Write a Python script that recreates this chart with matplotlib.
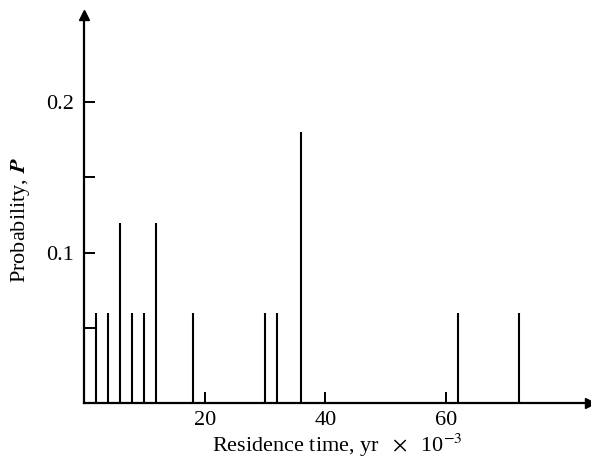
"""Residence time probability distribution: stem chart with arrowed axes."""
import matplotlib
matplotlib.use("Agg")
import matplotlib.pyplot as plt

# residence times (yr x 10^-3) and their probabilities
residence_time = [2, 4, 6, 8, 10, 12, 18, 30, 32, 36, 62, 72]
probability = [0.06, 0.06, 0.12, 0.06, 0.06, 0.12, 0.06, 0.06, 0.06, 0.18, 0.06, 0.06]

x_ticks = [20, 40, 60]
y_major = [0.1, 0.2]
y_minor = [0.05, 0.15]
y_ticklabels = ["0.1", "0.2"]

plt.rcParams.update({
    "font.family": "Liberation Serif",
    "mathtext.fontset": "stix",
    "font.size": 16,
})

fig = plt.figure(figsize=(5.91, 4.65), dpi=100)
ax = fig.add_axes([0.142, 0.133, 0.856, 0.835])

ax.vlines(residence_time, 0, probability, colors="black", lw=1.5)

ax.set_xlim(0, 83.8)
ax.set_ylim(0, 0.258)

for side in ("top", "right"):
    ax.spines[side].set_visible(False)
for side in ("left", "bottom"):
    ax.spines[side].set_linewidth(1.6)

# arrow heads on the axes
ax.plot(1, 0, ">", color="black", ms=7, transform=ax.get_yaxis_transform(), clip_on=False)
ax.plot(0, 1, "^", color="black", ms=7, transform=ax.get_xaxis_transform(), clip_on=False)

ax.set_xticks(x_ticks)
ax.set_yticks(y_major)
ax.set_yticklabels(y_ticklabels)
ax.set_yticks(y_minor, minor=True)
ax.tick_params(axis="both", which="both", direction="in", length=8, width=1.4, color="black")
ax.tick_params(axis="x", pad=6)
ax.tick_params(axis="y", pad=7)

ax.set_xlabel(r"Residence time, yr $\ \times\ $ 10$^{-3}$")
ax.set_ylabel(r"Probability, $\boldsymbol{P}$")
ax.xaxis.set_label_coords(0.5, -0.075)
ax.yaxis.set_label_coords(-0.103, 0.47)

fig.savefig("out.png", dpi=100)
